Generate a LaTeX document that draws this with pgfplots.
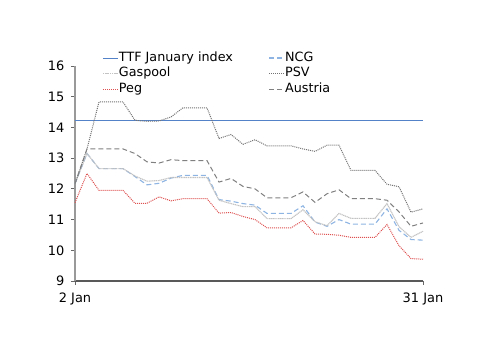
\documentclass[border=0pt]{standalone}
\usepackage{fontspec}
\setmainfont{DejaVu Sans}
\usepackage{pgfplots}
\usepackage{pgfplotstable}
\pgfplotsset{compat=1.18}
\definecolor{ttfblue}{RGB}{84,130,200}
\definecolor{ncgblue}{RGB}{141,180,226}
\definecolor{gaspoolgray}{RGB}{195,195,195}
\definecolor{psvgray}{RGB}{115,115,115}
\definecolor{pegred}{RGB}{222,80,80}
\definecolor{austriagray}{RGB}{128,128,128}
\pgfplotstableread{
day psv austria gaspool ncg peg
2 12.17 12.17 12.17 12.17 11.55
3 13.30 13.30 13.15 13.15 12.50
4 14.83 13.30 12.66 12.66 11.95
5 14.83 13.30 12.66 12.66 11.95
6 14.83 13.30 12.66 12.66 11.95
7 14.23 13.15 12.42 12.40 11.53
8 14.20 12.88 12.25 12.13 11.53
9 14.21 12.84 12.27 12.18 11.74
10 14.34 12.95 12.37 12.35 11.61
11 14.64 12.92 12.37 12.44 11.68
12 14.64 12.92 12.37 12.44 11.68
13 14.64 12.92 12.37 12.44 11.68
14 13.64 12.22 11.63 11.65 11.21
15 13.77 12.34 11.52 11.60 11.23
16 13.45 12.08 11.42 11.52 11.10
17 13.60 12.00 11.42 11.47 11.00
18 13.40 11.71 11.03 11.20 10.73
19 13.40 11.71 11.03 11.20 10.73
20 13.40 11.71 11.03 11.20 10.73
21 13.30 11.90 11.32 11.45 10.97
22 13.22 11.56 10.93 10.92 10.53
23 13.42 11.84 10.80 10.78 10.52
24 13.42 11.97 11.20 11.00 10.49
25 12.60 11.68 11.04 10.85 10.42
26 12.60 11.68 11.04 10.85 10.42
27 12.60 11.68 11.04 10.85 10.42
28 12.15 11.63 11.52 11.35 10.84
29 12.07 11.25 10.77 10.65 10.15
30 11.24 10.78 10.42 10.35 9.73
31 11.35 10.89 10.62 10.33 9.71
}\datatable
\begin{document}
\begin{tikzpicture}
\path[use as bounding box] (0,0) rectangle (500bp,353bp);
\begin{axis}[
  at={(75bp,72bp)}, anchor=south west,
  scale only axis, width=348bp, height=215bp,
  xmin=2, xmax=31, ymin=9, ymax=16,
  axis x line=bottom, axis y line=left,
  axis line style={-},
  x axis line style={draw=black!65, line width=1.2bp},
  y axis line style={draw=black!40, line width=1.8bp},
  xtick={2,31}, xticklabels={2 Jan,31 Jan},
  ytick={9,10,11,12,13,14,15,16},
  tick align=outside, major tick length=4bp,
  tick style={draw=black!60, line width=0.8bp},
  /pgf/number format/assume math mode=true,
  tick label style={font=\fontsize{13}{15}\selectfont},
  yticklabel style={xshift=-3bp},
  xticklabel style={yshift=-4bp},
  clip=false,
  legend columns=2,
  legend cell align=left,
  legend style={at={(0.078,1.074)}, anchor=north west, draw=none, fill=none,
    inner sep=0pt, row sep=0pt,
    font=\fontsize{12.8}{15}\selectfont,
    nodes={inner xsep=0.5bp, inner ysep=1bp, text height=10bp, text depth=3.5bp},
    /tikz/every even column/.append style={column sep=35bp}},
  legend image code/.code={\draw[#1] (0bp,0bp) -- (15bp,0bp);},
]
\addplot[ttfblue, line width=1bp] coordinates {(2,14.22) (31,14.22)};
\addlegendentry{TTF January index}
\addplot[ncgblue, line width=1.1bp, dash pattern=on 5bp off 3bp] table[x=day,y=ncg] {\datatable};
\addlegendentry{NCG}
\addplot[gaspoolgray, line width=1.1bp, dash pattern=on 1.2bp off 0.6bp] table[x=day,y=gaspool] {\datatable};
\addlegendentry{Gaspool}
\addplot[psvgray, line width=1bp, dash pattern=on 1bp off 1bp] table[x=day,y=psv] {\datatable};
\addlegendentry{PSV}
\addplot[pegred, line width=1bp, dash pattern=on 1bp off 1bp] table[x=day,y=peg] {\datatable};
\addlegendentry{Peg}
\addplot[austriagray, line width=1bp, dash pattern=on 5bp off 3bp] table[x=day,y=austria] {\datatable};
\addlegendentry{Austria}
\end{axis}
\end{tikzpicture}
\end{document}
